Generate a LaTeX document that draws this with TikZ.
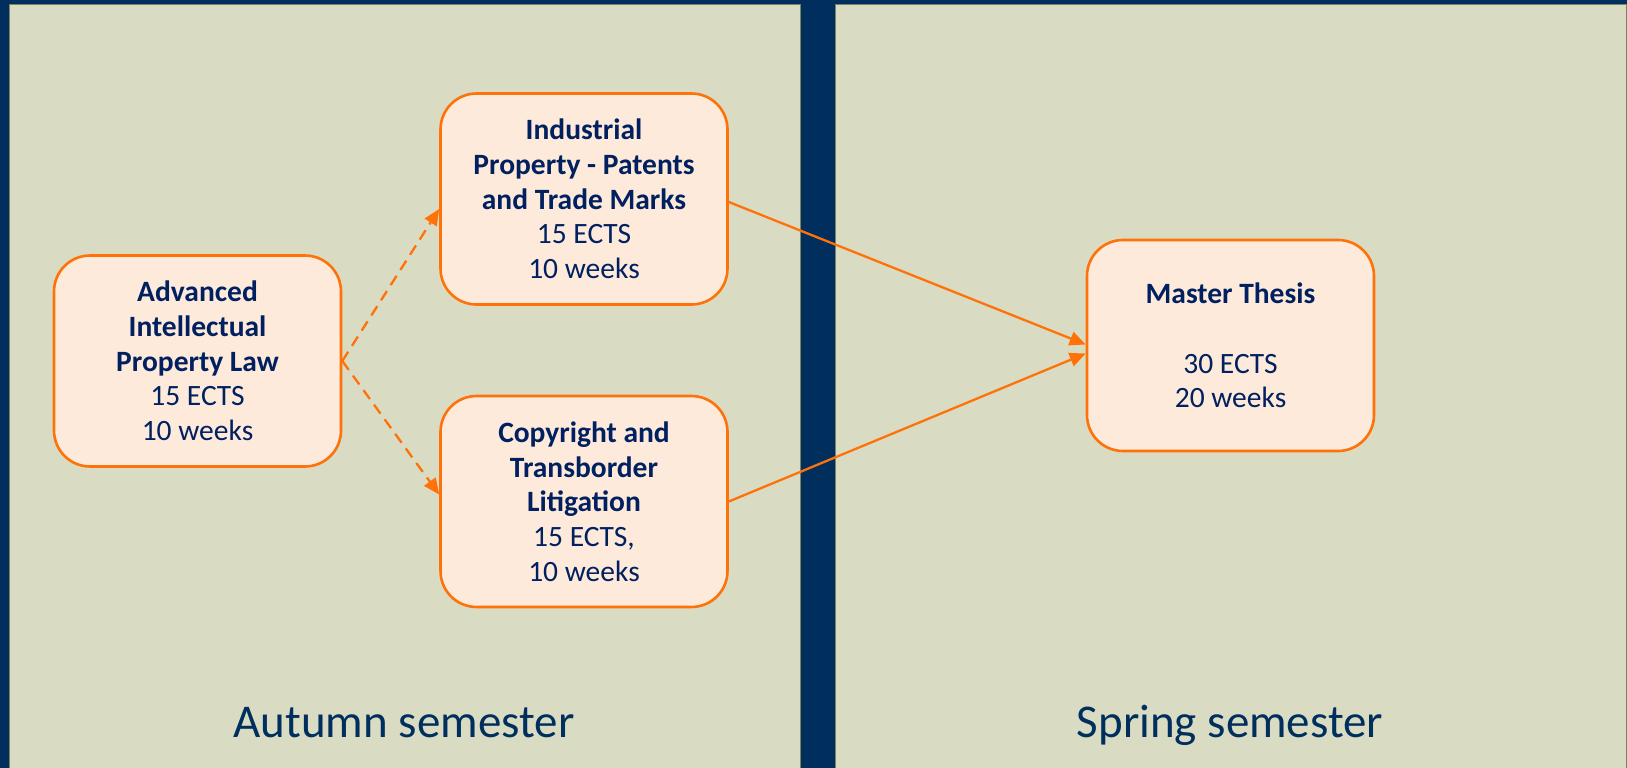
\documentclass[tikz,border=0pt]{standalone}
\usepackage{fontspec}
\setmainfont{Carlito}
\usetikzlibrary{arrows.meta,calc}
\definecolor{navy}{RGB}{0,46,93}
\definecolor{sage}{RGB}{217,220,195}
\definecolor{sageline}{RGB}{120,132,100}
\definecolor{boxfill}{RGB}{253,234,218}
\definecolor{boxline}{RGB}{255,114,10}
\definecolor{txt}{RGB}{0,32,96}
\begin{document}
\begin{tikzpicture}[x=1pt,y=-1pt,
 course/.style={draw=boxline, line width=2.6pt, fill=boxfill, rounded corners=36pt,
   minimum width=287pt, minimum height=211pt, align=center, text=txt,
   font=\fontsize{29.5}{34.7}\selectfont, inner sep=0pt},
 panel/.style={fill=sage, draw=sageline, line width=1pt},
 flow/.style={draw=boxline, line width=2.3pt, -{Triangle[length=16pt,width=14pt]}},
 optflow/.style={flow, dash pattern=on 11pt off 7pt},
 semlabel/.style={text=navy, font=\fontsize{47}{56}\selectfont, anchor=base}]
\useasboundingbox (0,0) rectangle (1627,768);
\fill[navy] (0,0) rectangle (1627,768);
\draw[panel] (9,5) rectangle (800,775);
\draw[panel] (835,5) rectangle (1626,775);

\node[course] (adv) at (197.5,361) {\textbf{Advanced}\\ \textbf{Intellectual}\\ \textbf{Property Law}\\ 15 ECTS\\ 10 weeks};
\node[course] (ind) at (584,199) {\textbf{Industrial}\\ \textbf{Property - Patents}\\ \textbf{and Trade Marks}\\ 15 ECTS\\ 10 weeks};
\node[course] (cop) at (584,501.5) {\textbf{Copyright and}\\ \textbf{Transborder}\\ \textbf{Litigation}\\ 15 ECTS,\\ 10 weeks};
\node[course] (mas) at (1230.5,345.5) {\textbf{Master Thesis}\\[34.7pt] 30 ECTS\\ 20 weeks};

\draw[optflow] (adv.east) -- ($(ind.west)+(0,10)$);
\draw[optflow] (adv.east) -- ($(cop.west)+(0,-7)$);
\draw[flow] ($(ind.east)+(0,3)$) -- ($(mas.west)+(0,-1)$);
\draw[flow] (cop.east) -- ($(mas.west)+(0,8)$);

\node[semlabel] (aut) at (404,737) {Autumn semester};
\node[semlabel] (spr) at (1230,737) {Spring semester};
\end{tikzpicture}
\end{document}
